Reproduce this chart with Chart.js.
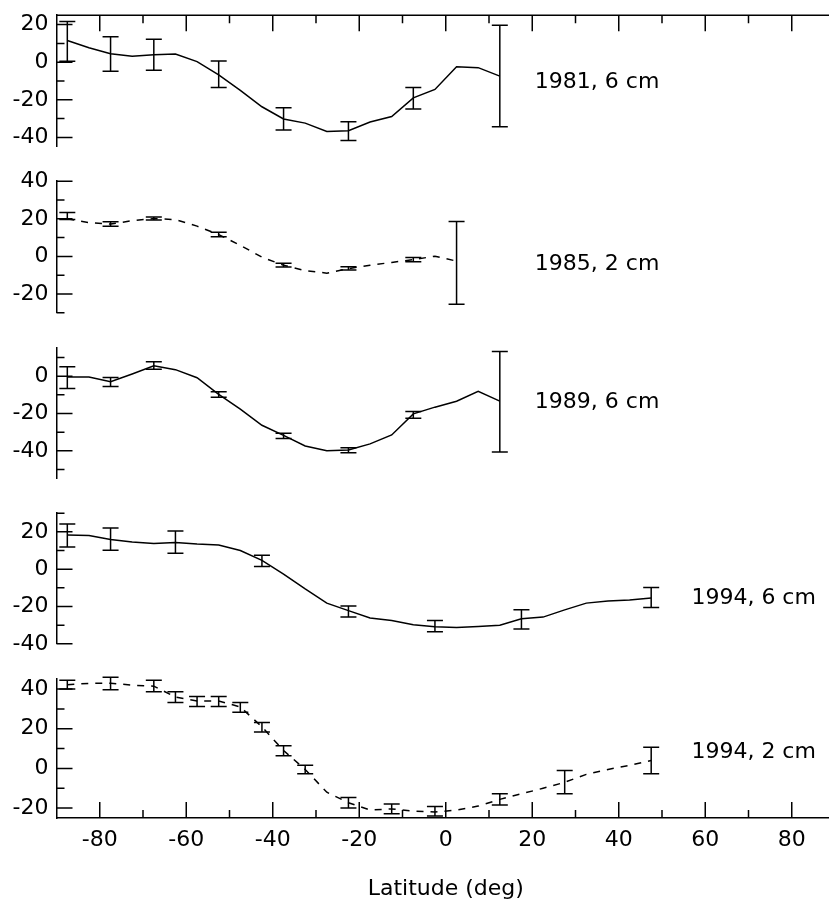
<!DOCTYPE html>
<html><head><meta charset="utf-8">
<script src="https://cdn.jsdelivr.net/npm/chart.js@4"></script>
<style>
html,body{margin:0;padding:0;overflow:hidden;background:#fff;width:829px;height:904px}
#wrap{position:relative;width:829px;height:904px;overflow:hidden;background:#fff}
#wrap canvas{position:absolute;left:0}
</style></head><body>
<div id="wrap"></div>
<script>
// ---- shared x categories (latitude, deg) ----
const latitudes = [-87.5,-82.5,-77.5,-72.5,-67.5,-62.5,-57.5,-52.5,-47.5,-42.5,-37.5,-32.5,-27.5,-22.5,-17.5,-12.5,-7.5,-2.5,2.5,7.5,12.5,17.5,22.5,27.5,32.5,37.5,42.5,47.5];
const xTickLabels = [-80,-60,-40,-20,0,20,40,60,80];
const xMinorTicks = [-70,-50,-30,-10,10,30,50,70];

// ---- 1981, 6 cm ----
const val1981 = [11.5,7.7,4.5,3.2,4.0,4.3,0.3,-6.8,-15.0,-23.7,-30.2,-32.4,-36.9,-36.4,-31.8,-28.9,-19.0,-14.5,-2.4,-2.9,-7.4];
const errLat1981 = [-87.5,-77.5,-67.5,-52.5,-37.5,-22.5,-7.5,12.5];
const errLo1981 = [0.5,-4.8,-4.3,-13.5,-36.1,-41.7,-24.9,-34.3];
const errHi1981 = [21.6,13.5,12.2,0.6,-24.2,-31.7,-13.5,19.6];
const yTicks1981 = [-40,-20,0,20];

// ---- 1985, 2 cm ----
const val1985 = [20.0,18.0,17.2,19.0,20.1,19.6,16.1,11.6,5.9,-0.4,-4.7,-7.6,-8.9,-6.5,-4.7,-3.2,-1.7,0.1,-2.5];
const errLat1985 = [-87.5,-77.5,-67.5,-52.5,-37.5,-22.5,-7.5,2.5];
const errLo1985 = [19.6,16.1,19.3,10.5,-5.7,-7.3,-2.8,-25.5];
const errHi1985 = [23.3,18.4,20.9,12.8,-3.7,-5.5,-0.6,18.5];
const yTicks1985 = [-20,0,20,40];

// ---- 1989, 6 cm ----
const val1989 = [-0.5,-0.5,-3.0,1.2,5.6,3.5,-0.8,-9.7,-17.7,-26.3,-31.7,-37.4,-39.9,-39.5,-36.3,-31.5,-20.2,-16.6,-13.4,-8.1,-13.4];
const errLat1989 = [-87.5,-77.5,-67.5,-52.5,-37.5,-22.5,-7.5,12.5];
const errLo1989 = [-6.6,-5.5,3.7,-11.3,-33.4,-41.1,-22.6,-40.6];
const errHi1989 = [5.1,-0.7,7.7,-8.3,-30.6,-38.4,-18.9,13.2];
const yTicks1989 = [-40,-20,0];

// ---- 1994, 6 cm ----
const val1994a = [18.3,18.0,15.9,14.6,13.8,14.3,13.5,13.0,10.0,4.7,-2.6,-10.6,-18.2,-22.2,-26.2,-27.5,-29.8,-30.8,-31.3,-30.7,-30.0,-26.6,-25.7,-21.8,-18.2,-17.0,-16.5,-15.4];
const errLat1994a = [-87.5,-77.5,-62.5,-42.5,-22.5,-2.5,17.5,47.5];
const errLo1994a = [11.9,10.1,8.5,1.4,-25.7,-33.6,-32.1,-20.6];
const errHi1994a = [24.2,22.1,20.4,7.4,-19.8,-27.5,-21.8,-9.8];
const yTicks1994a = [-40,-20,0,20];

// ---- 1994, 2 cm ----
const val1994b = [42.2,42.9,43.0,42.0,41.5,36.0,34.0,34.0,31.0,21.0,9.0,-0.5,-12.0,-17.3,-21.0,-20.4,-21.5,-22.0,-21.0,-19.0,-15.6,-12.8,-10.0,-7.0,-3.0,-0.5,1.5,4.0];
const errLat1994b = [-87.5,-77.5,-67.5,-62.5,-57.5,-52.5,-47.5,-42.5,-37.5,-32.5,-22.5,-12.5,-2.5,12.5,27.5,47.5];
const errLo1994b = [40.0,39.7,38.7,33.3,31.2,31.2,28.3,18.4,6.4,-2.7,-20.0,-22.9,-24.0,-18.4,-12.8,-2.7];
const errHi1994b = [44.5,46.0,44.5,38.7,36.3,36.3,33.3,23.2,11.5,1.6,-14.7,-17.9,-19.2,-12.8,-1.1,10.7];
const yTicks1994b = [-20,0,20,40];

const FONT = 'DejaVu Sans';
const FS = 22;

const panels = [
  {label:'1981, 6 cm', vals:val1981, eLat:errLat1981, eLo:errLo1981, eHi:errHi1981, yTicks:yTicks1981,
   min:-45, max:25, top:8, bottom:153.5, dash:[], labelAt:[20.6,-10.6], topAxis:true},
  {label:'1985, 2 cm', vals:val1985, eLat:errLat1985, eLo:errLo1985, eHi:errHi1985, yTicks:yTicks1985,
   min:-30, max:40, top:174.3, bottom:320, dash:[7,7], labelAt:[20.6,-4.1]},
  {label:'1989, 6 cm', vals:val1989, eLat:errLat1989, eLo:errLo1989, eHi:errHi1989, yTicks:yTicks1989,
   min:-55, max:15, top:340.5, bottom:485.5, dash:[], labelAt:[20.6,-14.1]},
  {label:'1994, 6 cm', vals:val1994a, eLat:errLat1994a, eLo:errLo1994a, eHi:errHi1994a, yTicks:yTicks1994a,
   min:-40, max:30, top:505.7, bottom:651, dash:[], labelAt:[56.8,-15.4]},
  {label:'1994, 2 cm', vals:val1994b, eLat:errLat1994b, eLo:errLo1994b, eHi:errHi1994b, yTicks:yTicks1994b,
   min:-25, max:45, top:671.5, bottom:817, dash:[7,7], labelAt:[56.8,8.2], bottomAxis:true}
];

const decor = {
  id:'decor',
  afterDatasetsDraw(chart, args, opts){
    const p = opts.panel;
    const {ctx, chartArea:a} = chart;
    const xs = chart.scales.x, ys = chart.scales.y;
    ctx.save();
    ctx.strokeStyle = '#000';
    ctx.lineWidth = 1.5;
    ctx.setLineDash([]);
    ctx.lineCap = 'butt';
    // error bars
    ctx.beginPath();
    p.eLat.forEach((L,i)=>{
      const px = xs.getPixelForValue(L);
      const y1 = ys.getPixelForValue(p.eLo[i]);
      const y2 = ys.getPixelForValue(p.eHi[i]);
      ctx.moveTo(px,y1); ctx.lineTo(px,y2);
      ctx.moveTo(px-8,y1); ctx.lineTo(px+8,y1);
      ctx.moveTo(px-8,y2); ctx.lineTo(px+8,y2);
    });
    ctx.stroke();
    // inward y ticks
    ctx.beginPath();
    const minorY = [];
    for (let v = Math.ceil(p.min/10)*10; v <= p.max; v += 10) if (!p.yTicks.includes(v)) minorY.push(v);
    p.yTicks.forEach(v=>{const py=ys.getPixelForValue(v); ctx.moveTo(a.left,py); ctx.lineTo(a.left+16,py);});
    minorY.forEach(v=>{const py=ys.getPixelForValue(v); ctx.moveTo(a.left,py); ctx.lineTo(a.left+8,py);});
    ctx.stroke();
    // top axis
    if (p.topAxis){
      ctx.beginPath();
      ctx.moveTo(a.left, a.top); ctx.lineTo(a.right, a.top);
      xTickLabels.forEach(v=>{const px=xs.getPixelForValue(v); ctx.moveTo(px,a.top); ctx.lineTo(px,a.top+16);});
      xMinorTicks.forEach(v=>{const px=xs.getPixelForValue(v); ctx.moveTo(px,a.top); ctx.lineTo(px,a.top+8);});
      ctx.stroke();
    }
    if (p.bottomAxis){
      ctx.beginPath();
      xTickLabels.forEach(v=>{const px=xs.getPixelForValue(v); ctx.moveTo(px,a.bottom); ctx.lineTo(px,a.bottom-16);});
      xMinorTicks.forEach(v=>{const px=xs.getPixelForValue(v); ctx.moveTo(px,a.bottom); ctx.lineTo(px,a.bottom-8);});
      ctx.stroke();
    }
    // panel label
    ctx.fillStyle = '#000';
    ctx.font = FS + 'px "' + FONT + '"';
    ctx.textAlign = 'left';
    ctx.textBaseline = 'middle';
    ctx.fillText(p.label, xs.getPixelForValue(p.labelAt[0]), ys.getPixelForValue(p.labelAt[1]));
    ctx.restore();
  }
};

const wrap = document.getElementById('wrap');
const W = 840, PAD = 14;
panels.forEach((p, idx)=>{
  const last = !!p.bottomAxis;
  const cTop = p.top - PAD;
  const cH = last ? (904 - cTop) : (p.bottom - p.top + 2*PAD);
  const cv = document.createElement('canvas');
  cv.width = W; cv.height = Math.round(cH);
  cv.style.width = W + 'px'; cv.style.height = Math.round(cH) + 'px';
  cv.style.top = cTop + 'px';
  wrap.appendChild(cv);
  const xAxisH = 904 - p.bottom - 0;
  new Chart(cv, {
    type:'line',
    data:{datasets:[{
      data: p.vals.map((v,i)=>({x:latitudes[i], y:v})),
      borderColor:'#000', borderWidth:1.5, borderDash:p.dash,
      pointRadius:0, tension:0, fill:false
    }]},
    options:{
      responsive:false, animation:false, devicePixelRatio:1,
      layout:{padding:{left:0, right:5, top:PAD, bottom: last ? 0 : PAD}},
      plugins:{legend:{display:false}, tooltip:{enabled:false}, decor:{panel:p}},
      scales:{
        x:{
          type:'linear', min:-90, max:90, position:'bottom', display:last,
          afterBuildTicks:s=>{s.ticks = xTickLabels.map(v=>({value:v}));},
          grid:{display:false, drawTicks:false},
          border:{display:true, color:'#000', width:1.5},
          ticks:{color:'#000', font:{family:FONT, size:FS}, padding:9, maxRotation:0, autoSkip:false},
          title:{display:true, text:'Latitude (deg)', color:'#000', font:{family:FONT, size:FS}, padding:{top:0, bottom:3}},
          afterFit:s=>{ if (last) s.height = xAxisH; }
        },
        y:{
          type:'linear', min:p.min, max:p.max, position:'left',
          afterBuildTicks:s=>{s.ticks = p.yTicks.map(v=>({value:v}));},
          grid:{display:false, drawTicks:false},
          border:{display:true, color:'#000', width:1.5},
          ticks:{color:'#000', font:{family:FONT, size:FS}, padding:8, autoSkip:false},
          afterFit:s=>{s.width = 56.5;}
        }
      }
    },
    plugins:[decor]
  });
});
</script>
</body></html>
